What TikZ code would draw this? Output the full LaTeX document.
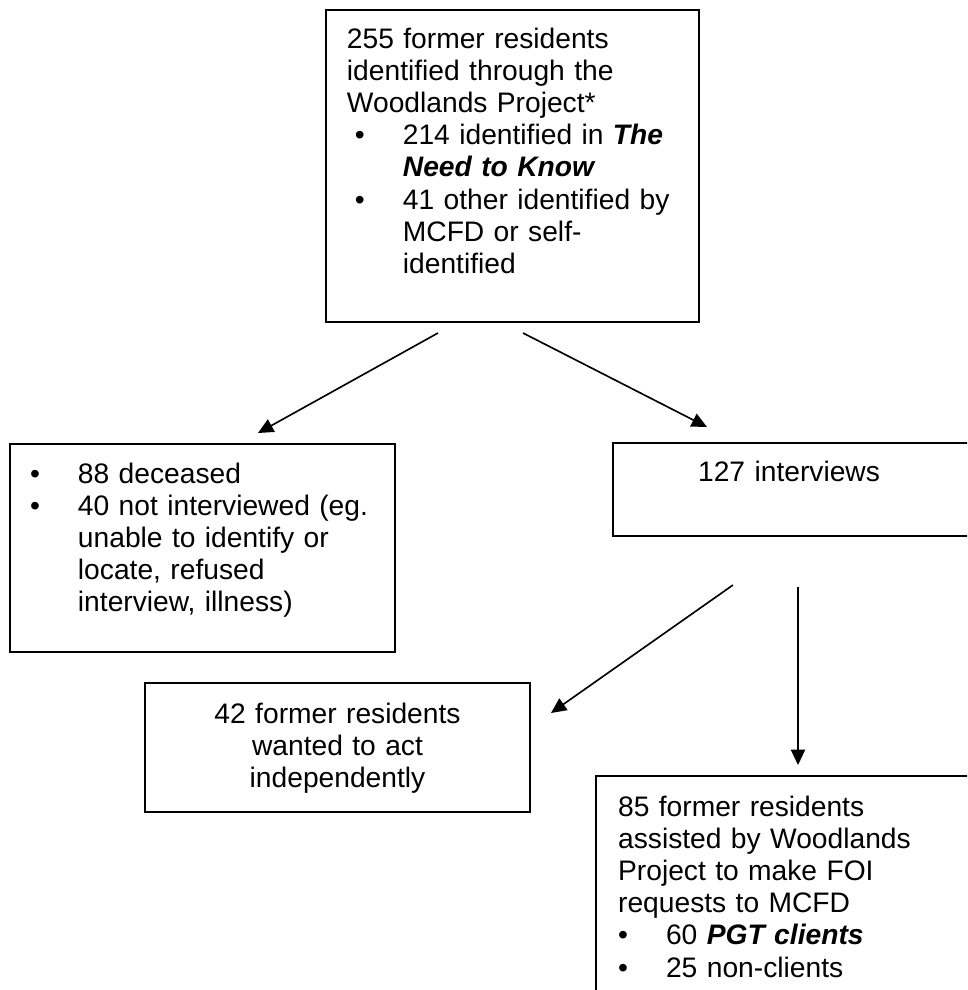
\documentclass[tikz,border=0pt]{standalone}
\usepackage{fontspec}
\setmainfont{Liberation Sans}
\usetikzlibrary{arrows.meta}

\newlength{\bulw}\setlength{\bulw}{20.4pt}
\newcommand{\itm}{\makebox[\bulw][l]{\textbullet}}
\newcommand{\hng}{\hspace*{\bulw}}

\begin{document}
\begin{tikzpicture}[x=0.4255pt,y=-0.4255pt,
    box/.style={draw,rectangle,line width=0.9pt,anchor=north west,inner ysep=0pt,
                font=\fontsize{12}{13.7}\selectfont},
    arr/.style={-{Triangle[length=6.5pt,width=6pt]},line width=0.7pt}]
  \useasboundingbox (0,0) rectangle (967,990);
  \clip (0,0) rectangle (967,990);

  % boxes
  \node[box,align=left,text width=141pt,inner xsep=8.9pt,
        text height=16.2pt,text depth=116.6pt] (all) at (325,9)
    {255 former residents\\
     identified through the\\
     Woodlands Project*\\
     \hspace*{3.4pt}\itm 214 identified in \textbf{\textit{The}}\\
     \hspace*{3.4pt}\hng\textbf{\textit{Need to Know}}\\
     \hspace*{3.4pt}\itm 41 other identified by\\
     \hspace*{3.4pt}\hng MCFD or self-\\
     \hspace*{3.4pt}\hng identified};
  \node[box,align=left,text width=146.8pt,inner xsep=8.5pt,
        text height=16.6pt,text depth=71.9pt] (gone) at (9,443)
    {\itm 88 deceased\\
     \itm 40 not interviewed (eg.\\
     \hng unable to identify or\\
     \hng locate, refused\\
     \hng interview, illness)};
  \node[box,align=left,text width=86.4pt,inner xsep=36.2pt,
        text height=16.2pt,text depth=23.4pt] (intv) at (612,442)
    {127 interviews};
  \node[box,align=center,text width=146.8pt,inner xsep=8.5pt,
        text height=17pt,text depth=37.9pt] (indep) at (144,682)
    {42 former residents\\
     wanted to act\\
     independently};
  \node[box,align=left,text width=147.2pt,inner xsep=9.4pt,
        text height=17pt,text depth=78.7pt] (foi) at (595,775)
    {85 former residents\\
     assisted by Woodlands\\
     Project to make FOI\\
     requests to MCFD\\
     \itm 60 \textbf{\textit{PGT clients}}\\
     \itm 25 non-clients};

  % arrows
  \coordinate (allL)  at (438,333);
  \coordinate (allR)  at (523,333);
  \coordinate (intvL) at (733,585);
  \coordinate (intvD) at (798,587);
  \coordinate (goneT) at (258,433);
  \coordinate (intvT) at (707,427);
  \coordinate (indepT) at (551,713);
  \coordinate (foiT)  at (798,765);

  \draw[arr] (allL) -- (goneT);
  \draw[arr] (allR) -- (intvT);
  \draw[arr] (intvL) -- (indepT);
  \draw[arr] (intvD) -- (foiT);
\end{tikzpicture}
\end{document}
